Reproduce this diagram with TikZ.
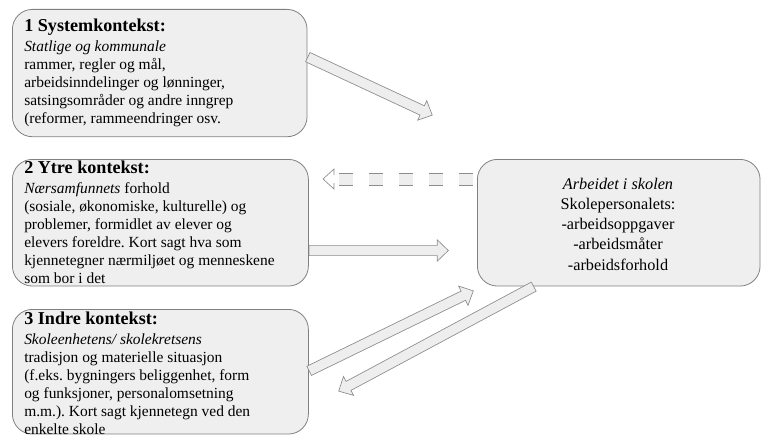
\documentclass[tikz,border=0pt]{standalone}
\usepackage{fontspec}
\setmainfont{Liberation Serif}
\usetikzlibrary{calc,shapes.arrows}

\definecolor{boxfill}{RGB}{239,239,239}
\definecolor{boxline}{RGB}{128,128,128}
\definecolor{arrowfill}{RGB}{238,238,238}
\definecolor{arrowline}{RGB}{140,140,140}

\newcommand\ctxtitlefont{\fontsize{13.6}{14.3}\selectfont\bfseries}
\frenchspacing

\tikzset{
  ctxbox/.style={draw=boxline, fill=boxfill, rounded corners=15pt, line width=0.6pt, inner sep=0pt, anchor=north west},
  ctxtext/.style={anchor=north west, inner sep=0pt, align=left, font=\fontsize{11.6}{13.4}\selectfont},
  fatarrow/.style={single arrow, draw=arrowline, fill=arrowfill, line width=0.5pt, inner xsep=0pt, inner ysep=3.6pt,
    single arrow head extend=4.2pt, single arrow tip angle=88, anchor=tail},
  dashfill/.style={fill=arrowfill},
  dashline/.style={draw=arrowline, line width=0.5pt}
}

\begin{document}
\begin{tikzpicture}[x=0.75pt,y=0.75pt,yscale=-1,xscale=1]
        \useasboundingbox (0,0) rectangle (761,435);

        % Boxes
        \node[ctxbox, minimum width=221pt, minimum height=95.5pt] (sys) at (12,9) {};
        \node[ctxbox, minimum width=222pt, minimum height=95pt] (ytre) at (12,159) {};
        \node[ctxbox, minimum width=222pt, minimum height=93.5pt] (indre) at (12,309) {};
        \node[ctxbox, minimum width=212pt, minimum height=95pt] (arb) at (477,159) {};

        % Text Node
        \node[ctxtext] (systxt) at (24,19) {{\ctxtitlefont 1 Systemkontekst:}\\[1.5pt]
          \textit{Statlige og kommunale}\\
          rammer, regler og mål,\\
          arbeidsinndelinger og lønninger,\\
          satsingsområder og andre inngrep\\
          (reformer, rammeendringer osv.};
        % Text Node
        \node[ctxtext] (ytretxt) at (24,161) {{\ctxtitlefont 2 Ytre kontekst:}\\[1.5pt]
          \textit{Nærsamfunnets} forhold\\
          (sosiale, økonomiske, kulturelle) og\\
          problemer, formidlet av elever og\\
          elevers foreldre. Kort sagt hva som\\
          kjennetegner nærmiljøet og menneskene\\
          som bor i det};
        % Text Node
        \node[ctxtext] (indretxt) at (24,312) {{\ctxtitlefont 3 Indre kontekst:}\\[1.5pt]
          \textit{Skoleenhetens/ skolekretsens}\\
          tradisjon og materielle situasjon\\
          (f.eks. bygningers beliggenhet, form\\
          og funksjoner, personalomsetning\\
          m.m.). Kort sagt kjennetegn ved den\\
          enkelte skole};
        % Text Node
        \node[align=center, font=\fontsize{12.2}{15.2}\selectfont] (arbtxt) at (618,224) {\textit{Arbeidet i skolen}\\
          Skolepersonalets:\\
          -arbeidsoppgaver\\
          -arbeidsmåter\\
          -arbeidsforhold};

        % Arrow ends
        \coordinate (a1s) at (sys.east |- 0,57);
        \coordinate (a1e) at (432,115);
        \coordinate (a3s) at (ytre.east |- 0,250.5);
        \coordinate (a3e) at (448,250.5);
        \coordinate (a4s) at (indre.east |- 0,371);
        \coordinate (a4e) at (473,291);
        \coordinate (a5s) at (arb.south west -| 534,0);
        \coordinate (a5e) at (339,391);
        \coordinate (a2s) at (arb.west |- 0,179);
        \coordinate (a2e) at (323,179);

        % Hollow arrows
        \foreach \s/\t in {a1s/a1e, a3s/a3e, a4s/a4e, a5s/a5e}
          \path let \p1=($(\t)-(\s)$), \n1={atan2(\y1,\x1)}, \n2={veclen(\x1,\y1)} in
            node[fatarrow, minimum height=\n2, rotate=-\n1] at (\s) {};

        % Dashed arrow
        \foreach \k in {0,...,4} {
          \fill[dashfill] ($(a2s)+(-4-30*\k,-6)$) rectangle ++(-14,12);
          \draw[dashline] ($(a2s)+(-4-30*\k,-6)$) -- ++(-14,0) ++(0,12) -- ++(14,0);
        }
        \draw[dashline] ($(a2e)+(11,-4)$) -- ++(0,-6) -- (a2e) -- ++(11,10) -- ++(0,-6);
\end{tikzpicture}
\end{document}
